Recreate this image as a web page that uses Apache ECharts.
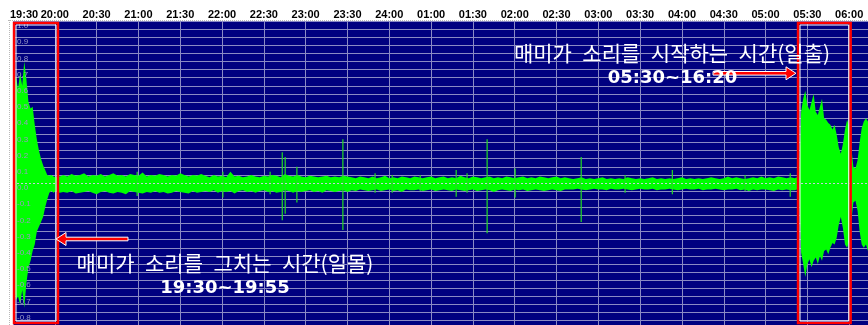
<!DOCTYPE html>
<html>
<head>
<meta charset="utf-8">
<script src="https://cdn.jsdelivr.net/npm/echarts@6.0.0/dist/echarts.min.js"></script>
<style>
  html, body { margin: 0; padding: 0; background: #ffffff; }
  #chart { width: 868px; height: 325px; }
</style>
</head>
<body>
<div id="chart"></div>
<script>
// Time ticks along the top, one every half hour slot
const timeLabels = ['19:30', '20:00', '20:30', '21:00', '21:30', '22:00', '22:30', '23:00', '23:30', '24:00',
  '01:00', '01:30', '02:00', '02:30', '03:00', '03:30', '04:00', '04:30', '05:00', '05:30', '06:00'];

// Waveform envelope at dusk (slot units from 19:30, 0.05 slot per sample)
const duskTop = [0.62, 0.66, 0.58, 0.68, 0.60, 0.75, 0.64, 0.50, 0.46, 0.47, 0.36, 0.27, 0.20, 0.15, 0.11,
  0.08, 0.05, 0.045, 0.05, 0.04, 0.035, 0.045, 0.04];
const duskLow = [-0.64, -0.72, -0.70, -0.75, -0.66, -0.77, -0.62, -0.52, -0.48, -0.42, -0.38, -0.30, -0.27,
  -0.24, -0.21, -0.15, -0.10, -0.06, -0.05, -0.06, -0.05, -0.055, -0.06];

// Quiet night background noise band
const nightTop = [
  0.05, 0.04, 0.055, 0.045, 0.05, 0.06, 0.04, 0.05, 0.045, 0.055, 0.04, 0.05, 0.06, 0.045, 0.05, 0.04, 0.055,
  0.05, 0.045, 0.065, 0.04, 0.05, 0.045, 0.055, 0.05, 0.04, 0.05, 0.045, 0.06, 0.05, 0.04, 0.05, 0.045, 0.055,
  0.045, 0.035, 0.05, 0.04, 0.045, 0.035, 0.07, 0.04, 0.045, 0.035, 0.04, 0.05, 0.04, 0.035, 0.045, 0.04, 0.05,
  0.045, 0.035, 0.055, 0.045, 0.04, 0.05, 0.04, 0.035, 0.045, 0.04, 0.035, 0.04, 0.045, 0.035, 0.04, 0.035, 0.045, 0.04,
  0.035, 0.03, 0.04, 0.035, 0.03, 0.04, 0.03, 0.035, 0.045, 0.03, 0.035, 0.03, 0.04, 0.035, 0.03, 0.04, 0.035,
  0.03, 0.035, 0.04, 0.03, 0.035, 0.04, 0.03, 0.035, 0.03, 0.045, 0.035, 0.03, 0.04, 0.035, 0.03, 0.035, 0.04,
  0.03, 0.035, 0.03, 0.04, 0.035, 0.03, 0.035, 0.04, 0.03, 0.035, 0.03, 0.04, 0.035, 0.03, 0.035, 0.04, 0.03, 0.035,
  0.03, 0.025, 0.03, 0.035, 0.025, 0.03, 0.025, 0.03, 0.035, 0.025, 0.03, 0.025, 0.03, 0.025, 0.035, 0.03, 0.025,
  0.03, 0.025, 0.03, 0.035, 0.025, 0.03, 0.025, 0.03, 0.025, 0.03, 0.035, 0.025, 0.03, 0.025, 0.03, 0.025, 0.03,
  0.035, 0.03, 0.025, 0.03, 0.04, 0.03, 0.035, 0.03, 0.025, 0.03, 0.035, 0.03, 0.04, 0.03, 0.035, 0.03, 0.04, 0.035,
  0.03, 0.035];
const nightLow = [
  -0.055, -0.06, -0.05, -0.065, -0.06, -0.055, -0.05, -0.06, -0.07, -0.055, -0.05, -0.06, -0.065, -0.055, -0.06,
  -0.07, -0.05, -0.055, -0.06, -0.065, -0.055, -0.06, -0.05, -0.06, -0.055, -0.065, -0.06, -0.05, -0.055, -0.06,
  -0.065, -0.05, -0.06, -0.055,
  -0.05, -0.055, -0.045, -0.06, -0.05, -0.055, -0.05, -0.065, -0.05, -0.045, -0.055, -0.05, -0.06, -0.05, -0.045,
  -0.055, -0.05, -0.06, -0.055, -0.045, -0.05, -0.06, -0.05, -0.055, -0.05, -0.045, -0.055, -0.05, -0.06, -0.045,
  -0.05, -0.055, -0.05, -0.045, -0.055,
  -0.045, -0.05, -0.04, -0.045, -0.05, -0.045, -0.04, -0.05, -0.045, -0.04, -0.05, -0.045, -0.055, -0.04, -0.045,
  -0.045, -0.04, -0.05, -0.045, -0.04, -0.05, -0.045, -0.04, -0.045, -0.05, -0.04, -0.045, -0.05, -0.045, -0.04,
  -0.05, -0.045, -0.04, -0.045, -0.055, -0.045, -0.04, -0.045, -0.05, -0.04, -0.045, -0.04, -0.05, -0.045, -0.04,
  -0.045, -0.05, -0.045, -0.04, -0.045, -0.05, -0.04,
  -0.04, -0.04, -0.035, -0.04, -0.045, -0.04, -0.035, -0.04, -0.04, -0.045, -0.035, -0.04, -0.04, -0.035, -0.04,
  -0.045, -0.04, -0.035, -0.04, -0.04, -0.035, -0.045, -0.04, -0.04, -0.035, -0.04, -0.045, -0.04, -0.035, -0.04,
  -0.04, -0.035, -0.045, -0.04, -0.04, -0.035, -0.04, -0.045, -0.04, -0.04, -0.035, -0.045, -0.04, -0.05, -0.04,
  -0.045, -0.04, -0.04, -0.045, -0.05, -0.04, -0.045, -0.04, -0.045];

// Dawn chorus envelope (0.05 slot per sample)
const dawnTop = [0.03, 0.035, 0.03, 0.44, 0.52, 0.57, 0.48, 0.45, 0.50, 0.55, 0.44, 0.42, 0.47, 0.52, 0.40, 0.39,
  0.37, 0.36, 0.33, 0.36, 0.30, 0.22, 0.18, 0.24, 0.33, 0.39, 0.35, 0.22, 0.10, 0.09, 0.14, 0.25, 0.34, 0.38,
  0.40, 0.38, 0.40];
const dawnLow = [-0.045, -0.04, -0.045, -0.43, -0.50, -0.58, -0.50, -0.47, -0.52, -0.48, -0.46, -0.50, -0.45,
  -0.48, -0.42, -0.41, -0.44, -0.40, -0.37, -0.38, -0.34, -0.26, -0.21, -0.28, -0.38, -0.40, -0.36, -0.24, -0.12,
  -0.11, -0.17, -0.30, -0.38, -0.40, -0.38, -0.42, -0.40];

// Isolated clicks during the night: [slot, peak, trough]
const spikes = [
  [2.97, 0.07, -0.08], [5.02, 0.07, -0.09], [6.15, 0.07, -0.07], [6.44, 0.19, -0.23], [6.51, 0.16, -0.19],
  [6.79, 0.10, -0.12], [7.89, 0.27, -0.29], [8.66, 0.06, -0.06], [9.07, 0.05, -0.06], [9.74, 0.05, -0.05],
  [10.60, 0.08, -0.085], [10.86, 0.06, -0.06], [11.34, 0.27, -0.31], [12.01, 0.09, -0.09], [13.59, 0.16, -0.24],
  [14.64, 0.05, -0.06], [15.77, 0.08, -0.07], [17.51, 0.05, -0.05], [18.59, 0.06, -0.085]
];

const segments = [
  { start: 0.02, step: 0.05, top: duskTop, low: duskLow },
  { start: 1.2, end: 18.6, top: nightTop, low: nightLow },
  { start: 18.7, step: 0.05, top: dawnTop, low: dawnLow }
];

function envelopePolygon(api) {
  const upper = [];
  const lower = [];
  segments.forEach(function (s) {
    const pos = function (arr, i) {
      return s.step ? s.start + i * s.step : s.start + i * (s.end - s.start) / (arr.length - 1);
    };
    s.top.forEach(function (v, i) { upper.push(api.coord([pos(s.top, i), v])); });
    s.low.forEach(function (v, i) { lower.push(api.coord([pos(s.low, i), v])); });
  });
  return upper.concat(lower.reverse());
}

const gridColor = '#8a8ac4';
const tickFont = { color: '#000000', fontSize: 11, fontWeight: 'bold', fontFamily: 'Liberation Sans' };
const chart = echarts.init(document.getElementById('chart'), null, { renderer: 'canvas' });

const redFrame = function (x, y, w, h) {
  return [
    { type: 'rect', z: 100, shape: { x: x, y: y, width: w, height: h },
      style: { fill: 'none', stroke: '#ff0000', lineWidth: 2.6 } },
    { type: 'rect', z: 100, shape: { x: x + 1.9, y: y + 2, width: w - 3.8, height: h - 4 },
      style: { fill: 'none', stroke: '#ffffff', lineWidth: 1 } }
  ];
};

chart.setOption({
  animation: false,
  backgroundColor: '#ffffff',
  grid: { left: 13, top: 21, width: 878, height: 324, show: true, backgroundColor: '#000080', borderWidth: 0,
    outerBoundsMode: 'none', containLabel: false },
  xAxis: {
    type: 'value', position: 'top', min: 0, max: 21, interval: 1,
    axisLine: { show: false }, axisTick: { show: false },
    axisLabel: Object.assign({
      margin: 1, showMinLabel: true, showMaxLabel: false, hideOverlap: false,
      // the first label hugs the left edge of the plot
      rich: { first: Object.assign({ width: 6, align: 'left' }, tickFont) },
      formatter: function (v) {
        const i = Math.round(v);
        const t = timeLabels[i] || '';
        return i === 0 ? '{first|' + t + '}' : t;
      }
    }, tickFont),
    splitLine: { show: true, lineStyle: { color: gridColor, width: 1 } }
  },
  yAxis: [
    {
      type: 'value', min: -1, max: 1, interval: 0.05,
      axisLine: { show: false }, axisTick: { show: false }, axisLabel: { show: false },
      splitLine: { show: true, lineStyle: { color: gridColor, width: 1 } }
    },
    {
      type: 'value', min: -1, max: 1, interval: 0.05, position: 'left', z: 10,
      axisLine: { show: false }, axisTick: { show: false }, splitLine: { show: false },
      axisLabel: {
        inside: true, margin: 4, color: '#9898c4', fontSize: 8, fontFamily: 'Liberation Sans',
        verticalAlign: 'top', padding: [1, 0, 0, 0], hideOverlap: false,
        formatter: function (v) {
          const c = Math.round(v * 100);
          return c % 10 === 0 ? (c / 100).toFixed(1) : '';
        }
      }
    }
  ],
  series: [
    {
      type: 'custom', coordinateSystem: 'cartesian2d', z: 2, silent: true,
      data: [[0, 0]],
      renderItem: function (params, api) {
        return { type: 'polygon', shape: { points: envelopePolygon(api) }, style: { fill: '#00ff00' } };
      }
    },
    {
      type: 'custom', coordinateSystem: 'cartesian2d', z: 3, silent: true,
      data: spikes,
      renderItem: function (params, api) {
        const a = api.coord([api.value(0), api.value(1)]);
        const b = api.coord([api.value(0), api.value(2)]);
        return { type: 'line', shape: { x1: a[0], y1: a[1], x2: b[0], y2: b[1] },
          style: { stroke: '#22dd22', lineWidth: 1.2 } };
      },
      markLine: {
        silent: true, symbol: 'none', z: 6, label: { show: false },
        lineStyle: { color: '#c8c8e0', type: [2, 2], width: 1 },
        data: [{ yAxis: 0 }]
      }
    }
  ],
  graphic: {
    elements: [
      { type: 'line', z: 100, shape: { x1: 8, y1: 20.5, x2: 868, y2: 20.5 },
        style: { stroke: '#b8b8b8', lineWidth: 1, lineDash: [1, 1] } },
      { type: 'line', z: 100, shape: { x1: 9.5, y1: 20, x2: 9.5, y2: 325 },
        style: { stroke: '#b8b8b8', lineWidth: 1, lineDash: [1, 1] } }
    ].concat(redFrame(14.1, 23, 43.8, 300), redFrame(798.1, 23, 52.5, 300), [
      { type: 'polygon', z: 101,
        shape: { points: [[56, 239], [66, 232.5], [66, 237.2], [128, 237.2], [128, 240.8], [66, 240.8], [66, 245.5]] },
        style: { fill: '#ff0000', stroke: '#ffffff', lineWidth: 1 } },
      { type: 'polygon', z: 101,
        shape: { points: [[796, 73.3], [786, 66.8], [786, 71.5], [713, 71.5], [713, 75.1], [786, 75.1], [786, 79.8]] },
        style: { fill: '#ff0000', stroke: '#ffffff', lineWidth: 1 } },
      { type: 'text', z: 102, x: 672, y: 53.5,
        style: { text: '매미가\u2002소리를\u2002시작하는\u2002시간(일출)', fill: '#ffffff', fontSize: 21,
          fontFamily: 'Noto Sans CJK KR', align: 'center', verticalAlign: 'middle' } },
      { type: 'text', z: 102, x: 672.5, y: 78.5,
        style: { text: '05:30~16:20', fill: '#ffffff', fontSize: 18, fontWeight: 'bold',
          fontFamily: 'DejaVu Sans', align: 'center', verticalAlign: 'middle' } },
      { type: 'text', z: 102, x: 225, y: 263,
        style: { text: '매미가\u2002소리를\u2002그치는\u2002시간(일몰)', fill: '#ffffff', fontSize: 21,
          fontFamily: 'Noto Sans CJK KR', align: 'center', verticalAlign: 'middle' } },
      { type: 'text', z: 102, x: 225, y: 288.5,
        style: { text: '19:30~19:55', fill: '#ffffff', fontSize: 18, fontWeight: 'bold',
          fontFamily: 'DejaVu Sans', align: 'center', verticalAlign: 'middle' } }
    ])
  }
});
</script>
</body>
</html>
